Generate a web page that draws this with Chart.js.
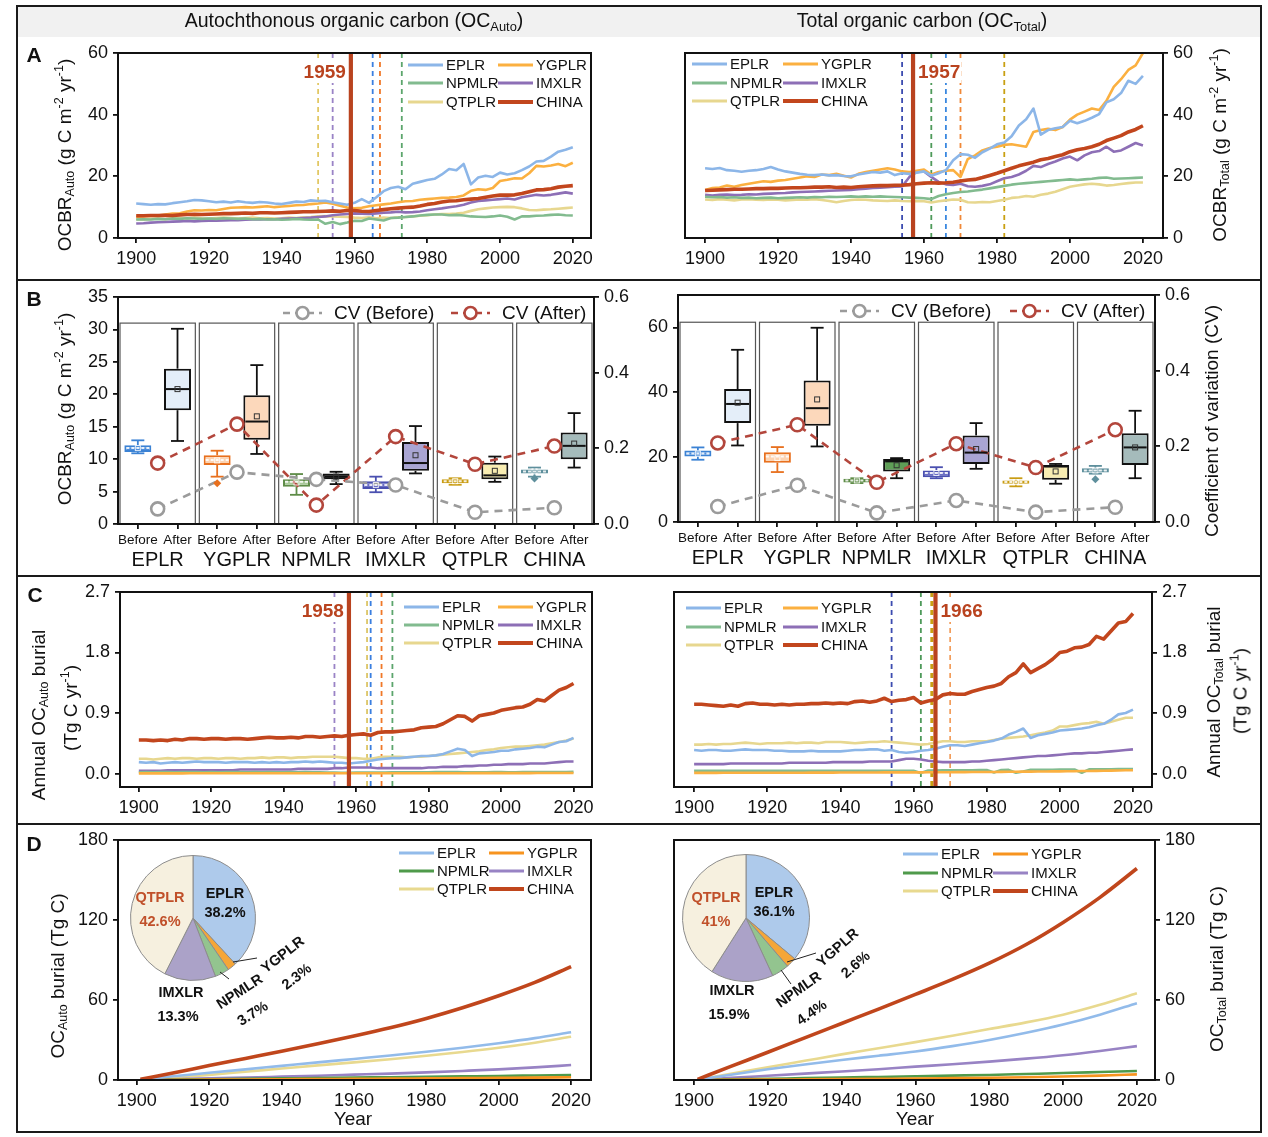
<!DOCTYPE html>
<html><head><meta charset="utf-8"><title>OC burial</title>
<script src="https://cdn.jsdelivr.net/npm/chart.js@4.4.1/dist/chart.umd.min.js"></script>
<style>
html,body{margin:0;padding:0;background:#fff;}
#page{position:relative;width:1268px;height:1137px;overflow:hidden;font-family:"Liberation Sans",Arial,Helvetica,sans-serif;color:#111;}
#page canvas{position:absolute;left:0;top:0;}
.box{position:absolute;}
.t{position:absolute;white-space:nowrap;transform:translate(-50%,-50%);z-index:10;line-height:1;}
.r{transform:translate(-50%,-50%) rotate(-90deg);}
.t sub,.t sup{font-size:66%;line-height:0;}
.t sub{vertical-align:-0.3em;}
.t sup{vertical-align:0.6em;}
</style></head>
<body><div id="page">
<div class="box" style="left:16px;top:5px;width:1242px;height:1124px;border:2px solid #1a1a1a;"></div>
<div class="box" style="left:18px;top:7px;width:1242px;height:30px;background:#f1f1f1;"></div>
<div class="box" style="left:17px;top:279px;width:1244px;height:2px;background:#1a1a1a;"></div>
<div class="box" style="left:17px;top:575px;width:1244px;height:2px;background:#1a1a1a;"></div>
<div class="box" style="left:17px;top:823px;width:1244px;height:2px;background:#1a1a1a;"></div>

<div class="t" style="left:354px;top:21px;font-size:19.5px">Autochthonous organic carbon (OC<sub>Auto</sub>)</div>
<div class="t" style="left:922px;top:21px;font-size:19.5px">Total organic carbon (OC<sub>Total</sub>)</div>
<div class="t" style="left:34px;top:54px;font-size:21px;font-weight:bold">A</div>
<div class="t" style="left:34px;top:298px;font-size:21px;font-weight:bold">B</div>
<div class="t" style="left:35px;top:594px;font-size:21px;font-weight:bold">C</div>
<div class="t" style="left:34px;top:843px;font-size:21px;font-weight:bold">D</div>
<div class="t r" style="left:64px;top:155px;font-size:19px">OCBR<sub>Auto</sub> (g C m<sup>-2</sup> yr<sup>-1</sup>)</div>
<div class="t r" style="left:1219px;top:145px;font-size:19px">OCBR<sub>Total</sub> (g C m<sup>-2</sup> yr<sup>-1</sup>)</div>
<div class="t r" style="left:64px;top:409px;font-size:19px">OCBR<sub>Auto</sub> (g C m<sup>-2</sup> yr<sup>-1</sup>)</div>
<div class="t r" style="left:1211px;top:421px;font-size:19px">Coefficient of variation (CV)</div>
<div class="t r" style="left:38px;top:715px;font-size:19px">Annual OC<sub>Auto</sub> burial</div>
<div class="t r" style="left:70px;top:708px;font-size:19px">(Tg C yr<sup>-1</sup>)</div>
<div class="t r" style="left:1213px;top:692px;font-size:19px">Annual OC<sub>Total</sub> burial</div>
<div class="t r" style="left:1240px;top:691px;font-size:19px">(Tg C yr<sup>-1</sup>)</div>
<div class="t r" style="left:57px;top:976px;font-size:19px">OC<sub>Auto</sub> burial (Tg C)</div>
<div class="t r" style="left:1216px;top:969px;font-size:19px">OC<sub>Total</sub> burial (Tg C)</div>
<div class="t" style="left:353px;top:1118px;font-size:19px">Year</div>
<div class="t" style="left:915px;top:1118px;font-size:19px">Year</div>
</div>
<script>
// ---------------- DATA ----------------
const regions = ['EPLR','YGPLR','NPMLR','IMXLR','QTPLR','CHINA'];
const yearTicks = [1900,1920,1940,1960,1980,2000,2020];
const years2 = [
1900,1902,1904,1906,1908,1910,1912,1914,1916,1918,
1920,1922,1924,1926,1928,1930,1932,1934,1936,1938,
1940,1942,1944,1946,1948,1950,1952,1954,1956,1958,
1960,1962,1964,1966,1968,1970,1972,1974,1976,1978,
1980,1982,1984,1986,1988,1990,1992,1994,1996,1998,
2000,2002,2004,2006,2008,2010,2012,2014,2016,2018,
2020];

// Panel A: OCBR_Auto (g C m-2 yr-1)
const aAuto_EPLR = [
11.2,11.0,10.8,11.0,10.9,11.3,11.6,11.9,12.3,12.2,
11.9,11.6,11.8,11.5,11.9,11.6,11.4,11.7,11.5,11.2,
11.0,11.4,11.8,11.7,12.2,12.0,12.1,11.6,11.2,10.8,
11.4,12.6,11.4,13.2,15.2,16.2,16.6,15.8,17.6,18.2,
18.8,19.2,20.6,22.4,22.0,24.0,17.4,19.6,20.2,19.8,
21.2,20.6,21.0,22.0,23.2,24.8,25.0,26.4,28.0,28.6,
29.4];
const aAuto_YGPLR = [
6.9,7.0,7.2,7.3,7.6,7.9,8.0,8.6,9.0,8.9,
9.1,9.0,9.4,9.8,9.9,10.0,9.9,10.1,10.3,10.0,
10.2,10.4,10.6,10.7,11.0,11.2,11.5,11.1,10.5,9.9,
9.6,9.8,10.3,10.6,10.9,11.2,11.6,11.9,12.0,12.4,
12.6,12.8,13.0,13.1,13.3,13.8,15.3,15.8,15.6,16.2,
18.5,18.9,19.4,19.3,21.0,23.4,23.2,23.5,24.0,23.3,
24.4];
const aAuto_NPMLR = [
6.0,6.1,6.0,6.2,6.1,6.3,6.2,6.4,6.3,6.2,
6.3,6.2,6.4,6.3,6.2,6.3,6.1,6.2,6.0,6.1,
5.9,6.0,6.2,6.0,5.9,6.0,4.6,5.2,4.5,5.0,
5.6,5.5,6.3,6.0,5.7,6.5,6.6,6.8,7.0,7.3,
7.5,7.6,7.6,7.4,7.5,7.3,7.0,6.9,6.8,7.0,
7.3,6.9,6.0,7.0,7.0,7.2,7.3,7.5,7.6,7.4,
7.3];
const aAuto_IMXLR = [
4.7,4.8,5.0,5.1,5.2,5.3,5.4,5.5,5.4,5.5,
5.6,5.6,5.7,5.8,5.8,5.9,6.0,6.0,6.1,6.1,
6.2,6.3,6.4,6.5,6.6,6.8,7.0,7.4,7.6,7.8,
8.0,7.9,7.8,8.0,8.2,8.3,8.5,8.3,8.4,8.6,
9.0,9.3,9.6,10.0,10.3,10.8,11.5,12.0,12.2,12.4,
12.6,12.8,12.5,13.2,13.6,14.0,13.8,14.0,14.4,14.8,
14.4];
const aAuto_QTPLR = [
6.1,6.0,6.2,6.3,6.1,6.4,6.5,6.3,6.6,6.4,
6.3,6.5,6.6,6.5,6.3,6.5,6.6,6.4,6.5,6.3,
6.4,6.6,6.5,6.7,6.8,7.0,7.1,7.0,6.9,6.8,
6.6,6.5,6.7,6.4,6.6,6.5,6.7,6.8,7.0,7.2,
7.4,7.6,7.8,7.8,7.9,8.2,8.8,9.3,9.6,9.9,
10.0,10.1,10.0,9.6,9.1,9.0,9.2,9.3,9.5,9.7,
9.9];
const aAuto_CHINA = [
7.2,7.2,7.3,7.3,7.4,7.3,7.5,7.6,7.7,7.6,
7.7,7.8,7.9,7.9,8.0,8.1,8.0,8.2,8.2,8.1,
8.2,8.3,8.4,8.5,8.5,8.6,8.7,8.8,8.7,8.9,
8.9,8.7,8.6,8.9,9.2,9.5,9.7,9.9,10.0,10.4,
10.9,11.2,11.7,12.0,12.1,12.4,12.6,12.8,13.2,13.6,
13.9,13.9,14.0,14.4,15.0,15.6,15.7,16.0,16.5,16.8,
17.0];

// Panel A: OCBR_Total
const aTot_EPLR = [
22.6,22.4,22.7,22.0,21.8,21.5,21.8,22.0,22.4,23.0,
22.2,21.6,21.2,20.8,20.5,20.4,20.6,20.3,20.4,20.1,
20.0,20.6,21.0,21.4,21.2,21.6,20.4,21.0,20.8,21.2,
21.6,20.2,21.0,22.0,25.2,27.2,27.0,26.0,27.8,29.0,
30.4,31.0,33.0,36.5,38.5,42.0,33.5,35.0,35.6,36.0,
38.0,37.2,38.0,39.0,40.2,44.0,45.0,47.0,51.0,50.0,
52.6];
const aTot_YGPLR = [
15.6,16.2,16.4,17.0,16.6,17.2,17.6,18.0,18.4,18.2,
18.6,18.8,19.2,19.6,20.0,19.8,20.6,20.4,20.8,20.2,
19.6,20.8,21.4,21.8,22.2,22.6,22.2,21.6,21.4,21.8,
22.2,20.6,21.4,21.8,22.0,19.8,25.6,26.8,28.4,29.2,
29.6,30.2,30.4,30.0,29.6,34.4,35.0,35.4,35.0,36.0,
38.4,40.0,41.0,42.0,41.5,44.5,49.0,51.5,54.5,56.0,
60.0];
const aTot_NPMLR = [
13.4,13.2,13.3,13.1,13.2,13.0,13.1,12.9,13.0,13.1,
12.9,13.0,13.1,13.2,13.1,13.3,13.2,13.4,13.3,13.4,
13.5,13.4,13.5,13.4,13.5,13.4,13.3,13.2,13.1,13.0,
12.9,12.6,13.6,14.2,14.6,14.9,15.1,15.4,15.7,16.1,
16.5,16.9,17.3,17.6,17.8,18.0,18.2,18.4,18.6,18.8,
19.0,18.8,19.0,19.2,19.5,19.6,19.2,19.3,19.4,19.5,
19.6];
const aTot_IMXLR = [
14.0,13.8,14.0,14.1,13.9,14.0,14.2,14.1,14.3,14.4,
14.5,14.6,14.8,14.9,15.0,15.1,15.2,15.3,15.4,15.5,
15.6,15.8,16.0,16.2,16.3,16.5,16.6,16.7,19.8,21.4,
21.6,19.8,18.2,17.4,17.2,17.6,16.8,16.6,16.9,17.4,
18.4,19.4,19.8,20.6,21.8,23.4,23.0,24.0,24.8,25.8,
26.4,25.2,26.8,27.8,28.2,29.6,28.0,28.4,29.6,30.8,
30.0];
const aTot_QTPLR = [
12.5,12.3,12.6,12.4,12.2,12.5,12.6,12.4,12.3,12.5,
12.4,12.2,12.3,12.5,12.4,12.6,12.3,12.0,11.6,12.0,
12.3,12.5,12.4,12.2,12.1,12.0,12.2,12.0,11.9,12.0,
11.9,11.5,11.9,12.2,12.5,12.4,11.6,11.5,11.7,11.6,
12.0,12.4,13.0,13.2,13.6,13.4,14.0,14.4,15.0,15.8,
16.6,17.0,17.4,17.6,17.4,17.0,17.2,17.5,17.8,18.0,
18.0];
const aTot_CHINA = [
15.4,15.5,15.6,15.7,15.8,15.8,15.9,16.0,16.0,16.1,
16.1,16.2,16.3,16.3,16.4,16.5,16.5,16.6,16.4,16.5,
16.4,16.6,16.8,16.9,17.0,17.0,17.1,17.1,17.3,17.6,
17.8,17.9,17.8,17.9,18.1,18.5,18.8,19.0,19.6,20.3,
21.0,21.8,22.6,23.4,24.0,24.6,25.4,25.8,26.4,27.0,
28.0,28.6,29.0,29.6,30.4,31.6,32.4,33.2,34.4,35.2,
36.4];

// Panel A break years
const breaksA_auto = [1950,1954,1965,1967,1973];
const chinaBreakA_auto = 1959;
const breaksA_tot = [1954,1962,1966,1970,1982];
const chinaBreakA_tot = 1957;

// Panel B: box statistics (Before/After for each region)
const boxLabels = ['Before','After','Before','After','Before','After','Before','After','Before','After','Before','After'];
const bAuto_min  = [10.9,12.8, 7.3,10.8, 4.5,6.15, 4.9, 7.8,6.05, 6.5, 7.3, 8.7];
const bAuto_q1   = [11.1,17.55,9.1,13.0,5.75, 6.9, 5.4, 8.2, 6.3, 6.9, 7.8,10.0];
const bAuto_med  = [11.7,20.8,9.85,15.8, 6.5, 7.3, 6.0, 9.4, 6.6, 7.5, 8.1,12.05];
const bAuto_q3   = [12.15,23.95,10.6,19.85,6.9,7.8, 6.6,12.65,6.9,9.45, 8.4,14.1];
const bAuto_max  = [12.9,30.1,11.3,24.5, 7.7,8.05, 7.3,15.1,7.05,10.4, 8.7,17.1];
const bAuto_mean = [11.7,20.8, 9.8,16.6, 6.4, 7.3, 6.0,10.6, 6.6, 8.2, 8.1,12.4];
const bAuto_outliers = [[2,6.3],[10,7.0]];
const cvAuto_before = [0.040,0.137,0.118,0.103,0.031,0.043];
const cvAuto_after  = [0.161,0.264,0.050,0.231,0.158,0.206];

const bTot_min  = [19.2,23.6,15.4,23.3,12.0,13.5,13.5,16.4,11.0,11.8,14.9,13.5];
const bTot_q1   = [20.2,30.5,18.3,29.7,12.2,15.6,13.8,17.9,11.8,13.0,15.3,17.6];
const bTot_med  = [21.1,36.4,20.2,35.1,12.8,18.7,15.1,21.4,12.3,17.1,15.9,23.0];
const bTot_q3   = [22.05,41.0,21.5,43.6,13.3,19.4,15.9,26.7,12.8,17.6,16.6,27.4];
const bTot_max  = [23.0,53.1,23.1,59.9,13.5,19.7,16.9,30.5,13.5,17.9,17.3,34.3];
const bTot_mean = [21.1,36.8,19.7,37.8,12.8,17.5,15.1,22.5,12.3,15.6,15.9,23.0];
const bTot_outliers = [[10,13.2]];
const cvTot_before = [0.041,0.097,0.024,0.057,0.026,0.039];
const cvTot_after  = [0.209,0.257,0.105,0.207,0.144,0.244];

// Panel C: annual OC burial (Tg C yr-1)
const cAuto_EPLR = [
0.17,0.16,0.17,0.15,0.16,0.17,0.16,0.17,0.18,0.17,
0.17,0.17,0.16,0.17,0.17,0.17,0.16,0.17,0.16,0.17,
0.16,0.17,0.17,0.18,0.17,0.18,0.17,0.16,0.16,0.15,
0.16,0.17,0.19,0.21,0.22,0.23,0.23,0.24,0.25,0.26,
0.26,0.27,0.29,0.33,0.37,0.35,0.26,0.30,0.31,0.32,
0.34,0.34,0.36,0.37,0.38,0.40,0.39,0.43,0.47,0.48,
0.53];
const cAuto_YGPLR = [
0.003,0.003,0.003,0.003,0.003,0.003,0.003,0.004,0.004,0.004,
0.004,0.004,0.004,0.004,0.004,0.004,0.004,0.004,0.004,0.004,
0.004,0.004,0.004,0.004,0.004,0.004,0.004,0.004,0.004,0.004,
0.004,0.004,0.004,0.004,0.004,0.004,0.005,0.005,0.005,0.005,
0.005,0.005,0.005,0.005,0.005,0.005,0.006,0.006,0.006,0.006,
0.007,0.007,0.007,0.007,0.007,0.008,0.008,0.008,0.008,0.008,
0.009];
const cAuto_NPMLR = [
0.020,0.021,0.020,0.022,0.021,0.020,0.021,0.022,0.021,0.020,
0.021,0.020,0.021,0.022,0.021,0.020,0.021,0.020,0.021,0.020,
0.020,0.021,0.020,0.021,0.020,0.019,0.015,0.016,0.012,0.013,
0.015,0.014,0.016,0.016,0.015,0.017,0.018,0.018,0.019,0.020,
0.020,0.021,0.021,0.021,0.021,0.020,0.020,0.020,0.020,0.021,
0.021,0.020,0.018,0.021,0.021,0.022,0.022,0.023,0.024,0.024,
0.025];
const cAuto_IMXLR = [
0.04,0.04,0.04,0.04,0.05,0.05,0.05,0.05,0.05,0.05,
0.05,0.05,0.05,0.05,0.06,0.06,0.06,0.06,0.06,0.06,
0.06,0.06,0.07,0.07,0.07,0.07,0.07,0.08,0.08,0.09,
0.09,0.09,0.09,0.08,0.08,0.08,0.08,0.08,0.08,0.08,
0.09,0.09,0.10,0.10,0.10,0.11,0.11,0.12,0.12,0.13,
0.13,0.14,0.14,0.14,0.15,0.15,0.15,0.16,0.17,0.18,
0.18];
const cAuto_QTPLR = [
0.22,0.22,0.21,0.22,0.23,0.22,0.23,0.23,0.22,0.23,
0.23,0.22,0.23,0.23,0.22,0.23,0.23,0.24,0.23,0.24,
0.24,0.23,0.24,0.24,0.25,0.25,0.25,0.25,0.24,0.23,
0.23,0.22,0.22,0.24,0.25,0.25,0.25,0.24,0.25,0.25,
0.26,0.27,0.28,0.29,0.30,0.31,0.32,0.33,0.35,0.36,
0.38,0.39,0.40,0.40,0.41,0.42,0.43,0.45,0.47,0.49,
0.52];
const cAuto_CHINA = [
0.50,0.50,0.49,0.50,0.49,0.51,0.50,0.52,0.52,0.51,
0.52,0.52,0.51,0.52,0.52,0.51,0.52,0.53,0.54,0.53,
0.53,0.54,0.53,0.55,0.55,0.54,0.55,0.56,0.55,0.57,
0.58,0.59,0.57,0.61,0.62,0.62,0.63,0.64,0.65,0.68,
0.69,0.70,0.74,0.80,0.86,0.85,0.78,0.86,0.88,0.90,
0.94,0.96,0.98,0.99,1.03,1.10,1.08,1.16,1.24,1.28,
1.34];

const cTot_EPLR = [
0.35,0.34,0.35,0.35,0.34,0.34,0.35,0.36,0.35,0.35,
0.35,0.34,0.34,0.33,0.33,0.33,0.34,0.33,0.33,0.33,
0.33,0.34,0.35,0.35,0.36,0.36,0.34,0.35,0.32,0.31,
0.32,0.34,0.35,0.37,0.40,0.42,0.42,0.41,0.43,0.45,
0.47,0.49,0.52,0.58,0.62,0.67,0.53,0.57,0.59,0.61,
0.64,0.65,0.66,0.67,0.69,0.72,0.74,0.80,0.88,0.90,
0.95];
const cTot_YGPLR = [
0.010,0.010,0.010,0.010,0.011,0.011,0.011,0.011,0.012,0.012,
0.012,0.012,0.013,0.013,0.013,0.013,0.014,0.014,0.014,0.014,
0.015,0.015,0.015,0.016,0.016,0.016,0.017,0.017,0.017,0.018,
0.018,0.018,0.019,0.019,0.020,0.020,0.021,0.021,0.022,0.022,
0.023,0.024,0.025,0.026,0.027,0.028,0.029,0.030,0.031,0.032,
0.033,0.034,0.035,0.037,0.038,0.040,0.042,0.044,0.046,0.048,
0.050];
const cTot_NPMLR = [
0.040,0.042,0.041,0.040,0.042,0.041,0.040,0.041,0.042,0.040,
0.041,0.040,0.041,0.042,0.041,0.040,0.041,0.042,0.041,0.040,
0.041,0.042,0.041,0.040,0.041,0.042,0.041,0.040,0.041,0.042,
0.040,0.010,0.044,0.046,0.047,0.048,0.049,0.050,0.050,0.051,
0.052,0.015,0.053,0.054,0.012,0.030,0.055,0.056,0.056,0.057,
0.058,0.059,0.060,0.012,0.062,0.063,0.064,0.065,0.066,0.067,
0.068];
const cTot_IMXLR = [
0.14,0.14,0.14,0.14,0.14,0.15,0.15,0.15,0.15,0.15,
0.15,0.15,0.15,0.16,0.16,0.16,0.16,0.16,0.16,0.17,
0.17,0.17,0.17,0.17,0.18,0.18,0.18,0.18,0.20,0.22,
0.22,0.21,0.19,0.18,0.17,0.17,0.17,0.17,0.18,0.18,
0.19,0.20,0.21,0.22,0.23,0.24,0.25,0.26,0.26,0.27,
0.28,0.29,0.30,0.30,0.31,0.31,0.32,0.33,0.34,0.35,
0.36];
const cTot_QTPLR = [
0.43,0.43,0.44,0.43,0.44,0.44,0.45,0.46,0.45,0.44,
0.45,0.45,0.45,0.46,0.45,0.46,0.46,0.45,0.47,0.47,
0.47,0.46,0.45,0.46,0.47,0.47,0.48,0.47,0.46,0.45,
0.44,0.43,0.44,0.46,0.48,0.48,0.47,0.47,0.48,0.48,
0.48,0.50,0.52,0.53,0.54,0.55,0.57,0.59,0.61,0.64,
0.70,0.70,0.72,0.74,0.75,0.77,0.74,0.77,0.80,0.83,
0.83];
const cTot_CHINA = [
1.03,1.03,1.02,1.01,1.00,1.02,1.00,1.04,1.05,1.03,
1.03,1.02,1.03,1.02,1.03,1.03,1.04,1.04,1.05,1.04,
1.05,1.04,1.07,1.08,1.06,1.08,1.12,1.07,1.09,1.10,
1.13,1.05,1.08,1.10,1.17,1.19,1.18,1.18,1.22,1.25,
1.28,1.30,1.34,1.44,1.50,1.63,1.50,1.56,1.62,1.70,
1.80,1.82,1.87,1.88,1.92,2.04,2.00,2.12,2.24,2.26,
2.38];

const breaksC_auto = [1954,1963,1964,1967,1970];
const chinaBreakC_auto = 1958;
const breaksC_tot = [1954,1962,1965,1970];
const chinaBreakC_tot = 1966;

// Panel D: cumulative OC burial (Tg C)
const yearsD = [1901,1910,1920,1930,1940,1950,1960,1970,1980,1990,2000,2010,2020];
const dAuto_EPLR  = [0.2,2.8,5.4,8.0,10.6,13.2,15.8,18.4,21.2,24.2,27.6,31.4,35.8];
const dAuto_YGPLR = [0.0,0.1,0.3,0.4,0.6,0.7,0.9,1.0,1.2,1.4,1.6,1.8,2.1];
const dAuto_NPMLR = [0.0,0.3,0.6,0.9,1.2,1.5,1.8,2.1,2.4,2.7,3.0,3.4,3.8];
const dAuto_IMXLR = [0.05,0.6,1.2,1.8,2.5,3.2,4.0,4.8,5.7,6.8,8.0,9.5,11.2];
const dAuto_QTPLR = [0.2,1.8,3.8,6.2,8.6,11.0,13.2,15.6,18.2,21.0,24.2,28.0,32.4];
const dAuto_CHINA = [0.5,5.2,10.8,16.2,21.6,27.2,33.0,39.2,46.2,54.2,63.2,73.2,85.0];
const dTot_EPLR  = [0.2,4.0,8.0,11.6,15.0,18.2,21.4,25.4,30.0,35.4,41.6,49.0,57.6];
const dTot_YGPLR = [0.0,0.2,0.3,0.5,0.7,0.9,1.1,1.4,1.7,2.1,2.6,3.3,4.2];
const dTot_NPMLR = [0.0,0.5,0.9,1.4,1.8,2.3,2.8,3.3,3.8,4.5,5.2,6.0,6.8];
const dTot_IMXLR = [0.1,1.6,3.2,4.8,6.4,8.1,10.0,11.8,13.8,16.0,18.6,21.8,25.4];
const dTot_QTPLR = [0.2,4.6,9.6,14.4,19.2,23.8,28.4,33.2,38.2,43.2,49.0,56.4,65.0];
const dTot_CHINA = [0.5,10.2,20.8,31.6,42.4,53.2,64.2,75.4,87.6,101.6,118.2,137.0,158.6];

// Pie shares (%)
const pieRegions = ['EPLR','YGPLR','NPMLR','IMXLR','QTPLR'];
const pieAuto  = [38.2,2.3,3.7,13.3,42.6];
const pieTotal = [36.1,2.6,4.4,15.9,41];

// ---------------- STYLE / RENDER ----------------
const FF = '"Liberation Sans", Arial, Helvetica, sans-serif';
Chart.defaults.font.family = FF;
Chart.defaults.color = '#111';
Chart.defaults.animation = false;
Chart.defaults.plugins.legend.display = false;
Chart.defaults.plugins.tooltip.enabled = false;
const W = 1268, H = 1137;
const RED = '#b9431f';
const lineColors = {EPLR:'#8cb6e8', YGPLR:'#fbb040', NPMLR:'#82bb8f', IMXLR:'#8d6fb6', QTPLR:'#e7d78f', CHINA:'#c2461d'};
const cumColors  = {EPLR:'#92bbea', YGPLR:'#f7941f', NPMLR:'#4f9a4b', IMXLR:'#9883c4', QTPLR:'#e8d98f', CHINA:'#c0461c'};
const beforeColors = ['#3b82d4','#e8701e','#5e8c47','#4a50b0','#c99c12','#5e8f9c'];
const beforeFills  = ['#4d8ddb','#fcd3b2','#a9c99a','#6b6fc4','#d9ad2a','#7aa0ab'];
const afterFillsAuto  = ['#e4eef9','#fcd8bb','#111111','#a9a5d3','#f8edb2','#a5bbbb'];
const afterFillsTot   = ['#e4eef9','#fcd8bb','#5f9e57','#a9a5d3','#f8edb2','#a5bbbb'];
const pieColors = ['#aecaeb','#f5a638','#93c48f','#aba2c8','#f6f0df'];

const DECO = {};
function mk(id){
  const c = document.createElement('canvas');
  c.id = id; c.width = W; c.height = H; c.style.width = W+'px'; c.style.height = H+'px';
  document.getElementById('page').appendChild(c);
  return c;
}
function line(ctx,x1,y1,x2,y2){ ctx.beginPath(); ctx.moveTo(x1,y1); ctx.lineTo(x2,y2); ctx.stroke(); }

Chart.register({
  id:'deco',
  beforeDatasetsDraw(chart){
    const d = DECO[chart.canvas.id]; if(!d) return;
    const ctx = chart.ctx, ca = chart.chartArea;
    ctx.save();
    if (d.groups){
      const xr = chart.scales.xr, half = ca.width/d.groups.n/2 - 2;
      const top = ca.top + d.groups.frac*ca.height;
      ctx.strokeStyle = '#555'; ctx.lineWidth = 1.2;
      for (let i=0;i<d.groups.n;i++){ const cx = xr.getPixelForValue(i); ctx.strokeRect(cx-half, top, 2*half, ca.bottom-top); }
    }
    if (d.breaks){
      for (const b of d.breaks){
        const x = chart.scales.x.getPixelForValue(b.year);
        ctx.strokeStyle = b.color; ctx.lineWidth = b.w; ctx.setLineDash([5,4]);
        line(ctx, x, ca.top, x, ca.bottom);
      }
      ctx.setLineDash([]);
    }
    if (d.box){
      const b = d.box, y = chart.scales.y, meta = chart.getDatasetMeta(0);
      meta.data.forEach((el,i)=>{
        const x = el.x, cap = 6.5;
        ctx.strokeStyle = b.whisk[i]; ctx.lineWidth = 1.8;
        const yMax = y.getPixelForValue(b.max[i]), yMin = y.getPixelForValue(b.min[i]);
        line(ctx, x, y.getPixelForValue(b.q3[i]), x, yMax);
        line(ctx, x, y.getPixelForValue(b.q1[i]), x, yMin);
        line(ctx, x-cap, yMax, x+cap, yMax);
        line(ctx, x-cap, yMin, x+cap, yMin);
      });
    }
    ctx.restore();
  },
  afterDatasetsDraw(chart){
    const d = DECO[chart.canvas.id]; if(!d) return;
    const ctx = chart.ctx, ca = chart.chartArea;
    ctx.save();
    if (d.box){
      const b = d.box, y = chart.scales.y, meta = chart.getDatasetMeta(0);
      meta.data.forEach((el,i)=>{
        const x = el.x, hw = el.width/2;
        const ym = y.getPixelForValue(b.med[i]);
        ctx.strokeStyle = b.medc[i]; ctx.lineWidth = 2;
        if (i%2===0) ctx.setLineDash([3,2]);
        line(ctx, x-hw+2, ym, x+hw-2, ym);
        ctx.setLineDash([]);
        const yn = y.getPixelForValue(b.mean[i]);
        ctx.strokeStyle = b.meanc[i]; ctx.lineWidth = 1;
        ctx.strokeRect(x-2.5, yn-2.5, 5, 5);
      });
      for (const [i,v] of b.outliers){
        const el = meta.data[i], yo = y.getPixelForValue(v);
        ctx.fillStyle = b.whisk[i];
        ctx.beginPath(); ctx.moveTo(el.x, yo-4); ctx.lineTo(el.x+4, yo); ctx.lineTo(el.x, yo+4); ctx.lineTo(el.x-4, yo); ctx.closePath(); ctx.fill();
      }
    }
    if (d.china){
      const x = chart.scales.x.getPixelForValue(d.china.year);
      ctx.strokeStyle = RED; ctx.lineWidth = 4.2;
      line(ctx, x, ca.top, x, ca.bottom);
      ctx.font = 'bold 19px '+FF; ctx.textBaseline = 'middle'; ctx.textAlign = 'left';
      const txt = String(d.china.year), tw = ctx.measureText(txt).width, ty = ca.top + 19;
      const tx = d.china.side === 'left' ? x - 5 - tw : x + 5;
      ctx.fillStyle = '#fff'; ctx.fillRect(tx-1, ty-11, tw+2, 22);
      ctx.fillStyle = RED; ctx.fillText(txt, tx, ty+1);
    }
    if (d.frame){
      ctx.strokeStyle = '#111'; ctx.lineWidth = 2;
      ctx.strokeRect(ca.left, ca.top, ca.right-ca.left, ca.bottom-ca.top);
    }
    if (d.legend){
      const L = d.legend;
      ctx.font = '15px '+FF; ctx.textBaseline = 'middle'; ctx.textAlign = 'left';
      chart.data.datasets.forEach((ds,k)=>{
        const sx = L.sx[k%2], ty = L.y[Math.floor(k/2)];
        ctx.strokeStyle = ds.borderColor; ctx.lineWidth = ds.label==='CHINA' ? 4 : 3;
        line(ctx, sx, ty, sx+35, ty);
        ctx.fillStyle = '#111'; ctx.fillText(ds.label, sx+38, ty+1);
      });
    }
    if (d.cvLegend){
      const L = d.cvLegend;
      ctx.font = '19px '+FF; ctx.textBaseline = 'middle'; ctx.textAlign = 'left';
      for (const it of L.items){
        ctx.strokeStyle = it.color; ctx.lineWidth = 2.6; ctx.setLineDash([7,5]);
        line(ctx, it.x, L.y, it.x+39, L.y);
        ctx.setLineDash([]);
        ctx.beginPath(); ctx.arc(it.x+19.5, L.y, 6, 0, Math.PI*2); ctx.fillStyle = '#fff'; ctx.fill(); ctx.stroke();
        ctx.fillStyle = '#111'; ctx.fillText(it.label, it.tx, L.y+1);
      }
    }
    if (d.pie){
      const arc = chart.getDatasetMeta(0).data[0], cx = arc.x, cy = arc.y;
      const vals = chart.data.datasets[0].data, labs = chart.data.labels;
      ctx.font = 'bold 14.5px '+FF; ctx.textAlign = 'center'; ctx.textBaseline = 'middle';
      for (const l of d.pie){
        ctx.save(); ctx.translate(cx+l.dx, cy+l.dy); ctx.rotate((l.rot||0)*Math.PI/180);
        ctx.fillStyle = l.c || '#111';
        ctx.fillText(l.k==='n' ? labs[l.i] : vals[l.i]+'%', 0, 0);
        ctx.restore();
      }
      ctx.strokeStyle = '#222'; ctx.lineWidth = 1;
      for (const s of d.leaders) line(ctx, cx+s[0], cy+s[1], cx+s[2], cy+s[3]);
    }
    ctx.restore();
  }
});

const tickGrid = () => ({display:true, drawOnChartArea:false, drawTicks:true, tickLength:5, color:'#111', lineWidth:1.8});

function lineChart(id, o){
  const datasets = regions.map((r,k)=>({
    label:r,
    data:o.years.map((yr,j)=>({x:yr, y:o.series[r][j]})),
    borderColor:o.colors[r], backgroundColor:o.colors[r],
    borderWidth: r==='CHINA' ? 3.6 : 2.6,
    pointRadius:0, fill:false, tension:o.tension||0,
    cubicInterpolationMode: o.tension ? 'monotone' : 'default',
    borderJoinStyle:'round',
    order: r==='CHINA' ? 0 : k+1
  }));
  DECO[id] = {
    frame:true,
    breaks: o.breaks ? o.breaks.years.map((yr,i)=>({year:yr, color:o.breaks.colors[i], w:o.breaks.w ? o.breaks.w[i] : 1.8})) : null,
    china: o.china || null,
    legend: {sx:o.legSx, y:o.legY}
  };
  new Chart(mk(id), {
    type:'line',
    data:{datasets},
    options:{
      responsive:false,
      layout:{padding:o.pad},
      scales:{
        x:{type:'linear', min:o.xmin, max:o.xmax,
           afterBuildTicks:s=>{ s.ticks = yearTicks.map(v=>({value:v})); },
           ticks:{font:{size:18}, padding:5, maxRotation:0, autoSkip:false, callback:v=>String(v)},
           grid:tickGrid(), border:{display:false},
           afterFit:s=>{ s.height = 40; }},
        y:{type:'linear', position:o.side, min:o.ymin, max:o.ymax,
           afterBuildTicks:s=>{ s.ticks = o.yticks.map(v=>({value:v})); },
           ticks:{font:{size:18}, padding:5, callback:v=>v.toFixed(o.dec)},
           grid:tickGrid(), border:{display:false},
           afterFit:s=>{ s.width = 50; }}
      }
    }
  });
}

function boxChart(id, o){
  const fills=[], borders=[], bws=[], whisk=[], medc=[], meanc=[];
  regions.forEach((r,k)=>{
    fills.push(beforeFills[k]); borders.push(beforeColors[k]); bws.push(2); whisk.push(beforeColors[k]);
    medc.push('rgba(255,255,255,0.85)'); meanc.push('rgba(255,255,255,0.85)');
    fills.push(o.afterFills[k]); borders.push('#111'); bws.push(2); whisk.push('#111');
    medc.push('#111'); meanc.push('#333');
  });
  DECO[id] = {frame:true, groups:{n:6, frac:o.frac},
    box:{min:o.min, q1:o.q1, med:o.med, q3:o.q3, max:o.max, mean:o.mean, outliers:o.outliers, whisk, medc, meanc},
    cvLegend:o.cvLegend};
  new Chart(mk(id), {
    type:'bar',
    data:{labels:boxLabels, datasets:[
      {type:'bar', data:o.q1.map((v,i)=>[v,o.q3[i]]), backgroundColor:fills, borderColor:borders, borderWidth:bws,
       borderSkipped:false, grouped:false, barPercentage:0.68, categoryPercentage:1, xAxisID:'x', yAxisID:'y', order:3},
      {type:'line', data:o.cvBefore, xAxisID:'xr', yAxisID:'y2', borderColor:'#9b9b9b', borderWidth:2.6, borderDash:[8,6],
       pointRadius:6.5, pointBorderWidth:2.6, pointBorderColor:'#9b9b9b', pointBackgroundColor:'#fff', fill:false, order:1},
      {type:'line', data:o.cvAfter, xAxisID:'xr', yAxisID:'y2', borderColor:'#b3463c', borderWidth:2.6, borderDash:[8,6],
       pointRadius:6.5, pointBorderWidth:2.6, pointBorderColor:'#b3463c', pointBackgroundColor:'#fff', fill:false, order:2}
    ]},
    options:{
      responsive:false,
      layout:{padding:o.pad},
      scales:{
        x:{type:'category', labels:boxLabels, offset:true, position:'bottom', weight:0,
           grid:Object.assign(tickGrid(), {offset:false}), border:{display:false},
           ticks:{font:{size:13.5}, padding:3, maxRotation:0, minRotation:0, autoSkip:false},
           afterFit:s=>{ s.height = 24; }},
        xr:{type:'category', labels:regions, offset:true, position:'bottom', weight:1,
           grid:{display:false, drawTicks:false}, border:{display:false},
           ticks:{font:{size:20}, padding:0, maxRotation:0, minRotation:0, autoSkip:false},
           afterFit:s=>{ s.height = 30; }},
        y:{type:'linear', position:'left', min:0, max:o.ymax,
           afterBuildTicks:s=>{ s.ticks = o.yticks.map(v=>({value:v})); },
           ticks:{font:{size:18}, padding:5, callback:v=>String(v)},
           grid:tickGrid(), border:{display:false}, afterFit:s=>{ s.width = 50; }},
        y2:{type:'linear', position:'right', min:0, max:0.6,
           afterBuildTicks:s=>{ s.ticks = [0,0.2,0.4,0.6].map(v=>({value:v})); },
           ticks:{font:{size:18}, padding:5, callback:v=>v.toFixed(1)},
           grid:tickGrid(), border:{display:false}, afterFit:s=>{ s.width = 50; }}
      }
    }
  });
}

function pieChart(id, o){
  DECO[id] = {pie:o.labels, leaders:o.leaders};
  new Chart(mk(id), {
    type:'pie',
    data:{labels:pieRegions, datasets:[{data:o.data, backgroundColor:pieColors, borderColor:'#8c8c8c', borderWidth:1}]},
    options:{responsive:false, layout:{padding:{left:o.cx-o.r, top:o.cy-o.r, right:W-o.cx-o.r, bottom:H-o.cy-o.r}}}
  });
}

// ---- Panel A ----
lineChart('aAuto', {
  years:years2, series:{EPLR:aAuto_EPLR, YGPLR:aAuto_YGPLR, NPMLR:aAuto_NPMLR, IMXLR:aAuto_IMXLR, QTPLR:aAuto_QTPLR, CHINA:aAuto_CHINA},
  colors:lineColors, xmin:1895, xmax:2025, ymin:0, ymax:60, yticks:[0,20,40,60], dec:0, side:'left',
  pad:{left:68, right:677, top:53, bottom:859},
  breaks:{years:breaksA_auto, colors:['#e2c865','#9a83c6','#3a7fe0','#f07828','#5ca56c']},
  china:{year:chinaBreakA_auto, side:'left'},
  legSx:[408,498], legY:[65,83,102]
});
lineChart('aTot', {
  years:years2, series:{EPLR:aTot_EPLR, YGPLR:aTot_YGPLR, NPMLR:aTot_NPMLR, IMXLR:aTot_IMXLR, QTPLR:aTot_QTPLR, CHINA:aTot_CHINA},
  colors:lineColors, xmin:1894.5, xmax:2025.5, ymin:0, ymax:60, yticks:[0,20,40,60], dec:0, side:'right',
  pad:{left:685, right:55, top:53, bottom:859},
  breaks:{years:breaksA_tot, colors:['#3c4cb0','#4e9a5a','#3a88e0','#f08838','#c9a012']},
  china:{year:chinaBreakA_tot, side:'right'},
  legSx:[692,783], legY:[64,83,101]
});

// ---- Panel B ----
boxChart('bAuto', {
  min:bAuto_min, q1:bAuto_q1, med:bAuto_med, q3:bAuto_q3, max:bAuto_max, mean:bAuto_mean, outliers:bAuto_outliers,
  cvBefore:cvAuto_before, cvAfter:cvAuto_after, ymax:35, yticks:[0,5,10,15,20,25,30,35], frac:0.115,
  afterFills:afterFillsAuto,
  pad:{left:68, right:624, top:297, bottom:559},
  cvLegend:{y:313, items:[{x:283, tx:334, color:'#9b9b9b', label:'CV (Before)'},{x:451, tx:502, color:'#b3463c', label:'CV (After)'}]}
});
boxChart('bTot', {
  min:bTot_min, q1:bTot_q1, med:bTot_med, q3:bTot_q3, max:bTot_max, mean:bTot_mean, outliers:bTot_outliers,
  cvBefore:cvTot_before, cvAfter:cvTot_after, ymax:70, yticks:[0,20,40,60], frac:0.12,
  afterFills:afterFillsTot,
  pad:{left:628, right:63, top:295, bottom:561},
  cvLegend:{y:311, items:[{x:840, tx:891, color:'#9b9b9b', label:'CV (Before)'},{x:1010, tx:1061, color:'#b3463c', label:'CV (After)'}]}
});

// ---- Panel C ----
lineChart('cAuto', {
  years:years2, series:{EPLR:cAuto_EPLR, YGPLR:cAuto_YGPLR, NPMLR:cAuto_NPMLR, IMXLR:cAuto_IMXLR, QTPLR:cAuto_QTPLR, CHINA:cAuto_CHINA},
  colors:lineColors, xmin:1894.8, xmax:2025.1, ymin:-0.2, ymax:2.7, yticks:[0,0.9,1.8,2.7], dec:1, side:'left',
  pad:{left:70, right:676, top:592, bottom:310},
  breaks:{years:breaksC_auto, colors:['#9a83c6','#dcc566','#3a7fe0','#f07828','#5ca56c']},
  china:{year:chinaBreakC_auto, side:'left'},
  legSx:[404,498], legY:[607,625,643]
});
lineChart('cTot', {
  years:years2, series:{EPLR:cTot_EPLR, YGPLR:cTot_YGPLR, NPMLR:cTot_NPMLR, IMXLR:cTot_IMXLR, QTPLR:cTot_QTPLR, CHINA:cTot_CHINA},
  colors:lineColors, xmin:1894.5, xmax:2025.2, ymin:-0.2, ymax:2.7, yticks:[0,0.9,1.8,2.7], dec:1, side:'right',
  pad:{left:674, right:66, top:592, bottom:310},
  breaks:{years:breaksC_tot, colors:['#3c4cb0','#4e9a5a','#c9a012','#f08838'], w:[1.8,1.8,3,1.4]},
  china:{year:chinaBreakC_tot, side:'right'},
  legSx:[686,783], legY:[608,627,645]
});

// ---- Panel D ----
lineChart('dAuto', {
  years:yearsD, series:{EPLR:dAuto_EPLR, YGPLR:dAuto_YGPLR, NPMLR:dAuto_NPMLR, IMXLR:dAuto_IMXLR, QTPLR:dAuto_QTPLR, CHINA:dAuto_CHINA},
  colors:cumColors, tension:0.4, xmin:1894.8, xmax:2025.5, ymin:0, ymax:180, yticks:[0,60,120,180], dec:0, side:'left',
  pad:{left:68, right:677, top:840, bottom:17},
  legSx:[399,489], legY:[853,871,889]
});
lineChart('dTot', {
  years:yearsD, series:{EPLR:dTot_EPLR, YGPLR:dTot_YGPLR, NPMLR:dTot_NPMLR, IMXLR:dTot_IMXLR, QTPLR:dTot_QTPLR, CHINA:dTot_CHINA},
  colors:cumColors, tension:0.4, xmin:1894.6, xmax:2024.9, ymin:0, ymax:180, yticks:[0,60,120,180], dec:0, side:'right',
  pad:{left:674, right:63, top:840, bottom:17},
  legSx:[903,993], legY:[854,873,891]
});

pieChart('pAuto', {
  data:pieAuto, cx:193, cy:918, r:63,
  labels:[
    {i:0,k:'n',dx:32,dy:-24},{i:0,k:'p',dx:32,dy:-5},
    {i:4,k:'n',dx:-33,dy:-20,c:'#c0502a'},{i:4,k:'p',dx:-33,dy:4,c:'#c0502a'},
    {i:3,k:'n',dx:-12,dy:75},{i:3,k:'p',dx:-15,dy:99},
    {i:2,k:'n',dx:47,dy:74,rot:-33},{i:2,k:'p',dx:60,dy:96,rot:-33},
    {i:1,k:'n',dx:90,dy:37,rot:-38},{i:1,k:'p',dx:104,dy:59,rot:-38}
  ],
  leaders:[[40,44,64,40],[27,54,36,61]]
});
pieChart('pTot', {
  data:pieTotal, cx:746, cy:918, r:64,
  labels:[
    {i:0,k:'n',dx:28,dy:-25},{i:0,k:'p',dx:28,dy:-6},
    {i:4,k:'n',dx:-30,dy:-20,c:'#c0502a'},{i:4,k:'p',dx:-30,dy:4,c:'#c0502a'},
    {i:3,k:'n',dx:-14,dy:73},{i:3,k:'p',dx:-17,dy:97},
    {i:2,k:'n',dx:53,dy:72,rot:-35},{i:2,k:'p',dx:66,dy:95,rot:-35},
    {i:1,k:'n',dx:92,dy:30,rot:-41},{i:1,k:'p',dx:110,dy:47,rot:-41}
  ],
  leaders:[[41,44,70,35],[35,52,45,66]]
});
</script>
</body></html>
